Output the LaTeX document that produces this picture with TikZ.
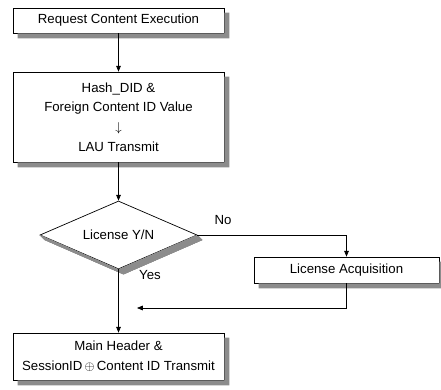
\documentclass[tikz,border=0pt]{standalone}
\usepackage{fontspec}
\setmainfont{Liberation Sans}
\usetikzlibrary{shapes.geometric,arrows.meta}

\tikzset{
  flowbox/.style={draw,fill=white,line width=0.6pt,align=center,inner sep=0pt},
  decision/.style={diamond,draw,fill=white,line width=0.6pt,inner sep=0pt,aspect=2.3},
  boxshadow/.style={fill=black!45},
  flowline/.style={line width=0.6pt,-{Triangle[length=5pt,width=4pt]}}
}
% shadow strip to the right of and under a box
\newcommand{\shadowstrip}[1]{%
  \fill[boxshadow] ([shift={(0,5)}]#1.north east) -- ([shift={(5,5)}]#1.north east)
    -- ([shift={(5,5)}]#1.south east) -- ([shift={(5,5)}]#1.south west)
    -- ([shift={(5,0)}]#1.south west) -- (#1.south east) -- cycle;}

\begin{document}
\begin{tikzpicture}[x=0.03cm,y=-0.03cm,font=\fontsize{11.3}{16.8}\selectfont]
\useasboundingbox (0,0) rectangle (441,390);

% boxes
\node[flowbox,minimum width=6.33cm,minimum height=0.75cm] (req) at (118.5,20.5) {Request Content Execution};
\node[flowbox,minimum width=6.33cm,minimum height=2.7cm] (hash) at (118.5,117)
  {Hash\_DID \&\\Foreign Content ID Value\\$\downarrow$\\LAU Transmit};
\node[decision,minimum width=4.71cm,minimum height=2.04cm] (chk) at (118.5,235) {License Y/N};
\node[flowbox,minimum width=5.55cm,minimum height=0.78cm] (acq) at (346.5,270) {License Acquisition};
\node[flowbox,minimum width=6.33cm,minimum height=1.41cm] (hdr) at (118.5,356.5)
  {Main Header \&\\SessionID\,$\oplus$\,Content ID Transmit};

% shadows
\foreach \n in {req,hash,acq,hdr}
  \shadowstrip{\n}
\fill[boxshadow] (chk.east) -- ([shift={(5,5)}]chk.east) -- ([shift={(5,5)}]chk.south)
  -- ([shift={(5,5)}]chk.west) -- (chk.west) -- (chk.south) -- cycle;

% labels
\node (no) at (223,220) {No};
\node (yes) at (150,275) {Yes};
\coordinate (join) at (137,308);

% connectors
\draw[flowline] (req) -- (hash);
\draw[flowline] (hash) -- (chk);
\draw[flowline] (chk.east) -| (acq.north);
\draw[flowline] (chk.south) -- (hdr);
\draw[flowline] (acq.south) |- (join);
\end{tikzpicture}
\end{document}
